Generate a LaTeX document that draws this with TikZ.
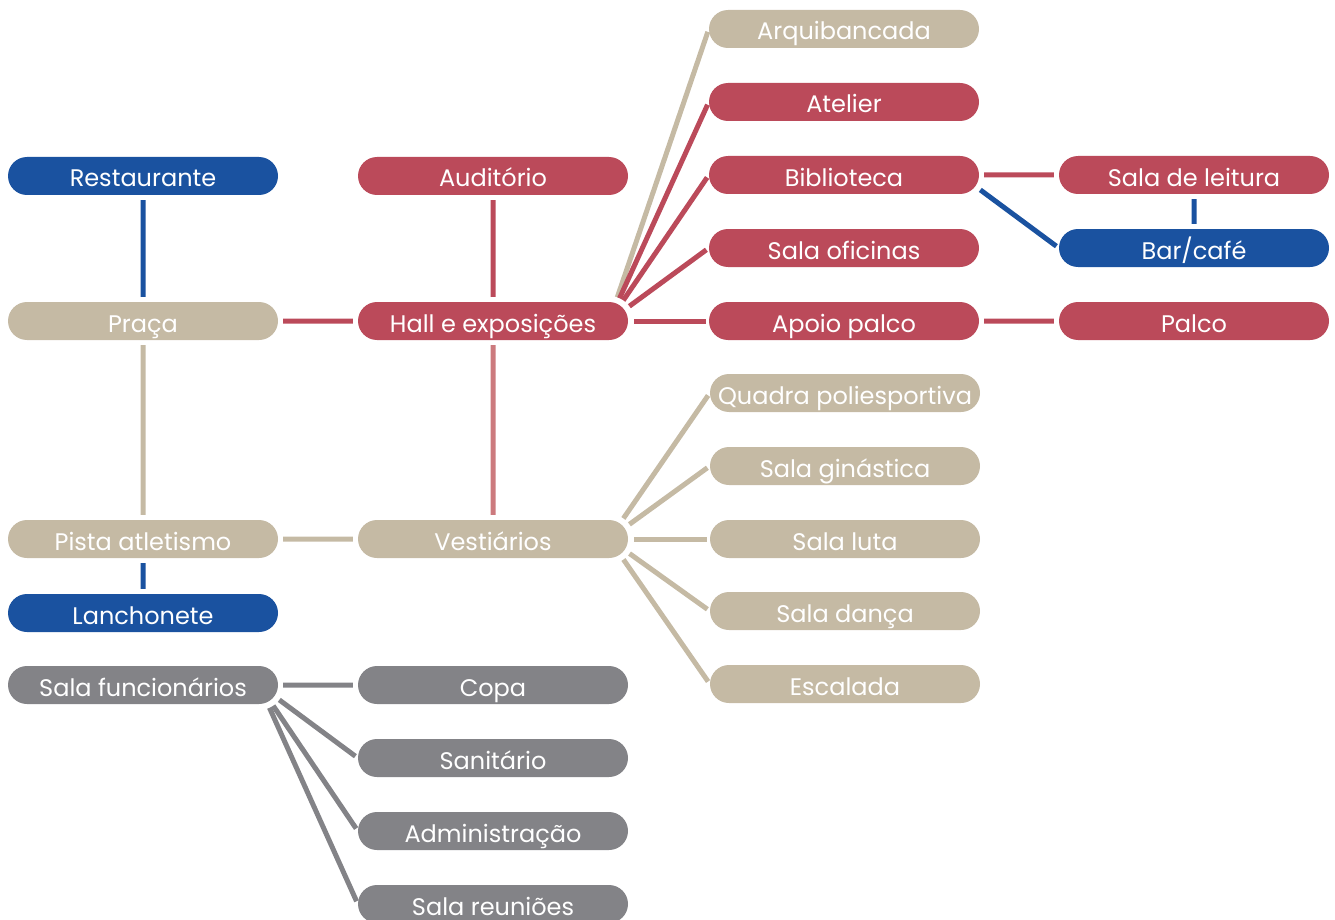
\documentclass[tikz,border=0pt]{standalone}
\usepackage{fontspec}
\setmainfont{Poppins}
\usetikzlibrary{shapes.misc,positioning,calc}
\definecolor{blueroom}{RGB}{26,82,160}
\definecolor{redroom}{RGB}{187,74,90}
\definecolor{sandroom}{RGB}{197,186,164}
\definecolor{greyroom}{RGB}{131,131,135}
\definecolor{pinkline}{RGB}{204,122,126}

\begin{document}
\begin{tikzpicture}[
  x=1pt,y=-1pt,
  room/.style={rounded rectangle,minimum width=270pt,minimum height=38pt,
    inner sep=0pt,text=white,font=\fontsize{24}{26}\selectfont,
    text height=22pt,text depth=0pt},
  blu/.style={fill=blueroom},
  red/.style={fill=redroom},
  sand/.style={fill=sandroom},
  grey/.style={fill=greyroom},
  link/.style={line width=5pt,shorten <=5pt,shorten >=5pt},
  fan/.style={line width=5pt,shorten <=25pt,shorten >=3pt},
]
  \useasboundingbox (0,0) rectangle (1335,920);
  % column 1
  \node[room,blu] (rest) at (143,176) {Restaurante};
  \node[room,sand] (praca) at (143,321) {Praça};
  \node[room,sand] (pista) at (143,539) {Pista atletismo};
  \node[room,blu] (lanch) at (143,613) {Lanchonete};
  \node[room,grey] (func) at (143,685) {Sala funcionários};
  % column 2
  \node[room,red] (audit) at (493,176) {Auditório};
  \node[room,red] (hall) at (493,321) {Hall e exposições};
  \node[room,sand] (vest) at (493,539) {Vestiários};
  \node[room,grey] (copa) at (493,685) {Copa};
  \node[room,grey] (sanit) at (493,758) {Sanitário};
  \node[room,grey] (admin) at (493,831) {Administração};
  \node[room,grey] (reun) at (493,904) {Sala reuniões};
  % column 3
  \node[room,sand] (arqui) at (844,29) {Arquibancada};
  \node[room,red] (atel) at (844,102) {Atelier};
  \node[room,red] (bibl) at (844,175) {Biblioteca};
  \node[room,red] (ofic) at (844,248) {Sala oficinas};
  \node[room,red] (apoio) at (844,321) {Apoio palco};
  \node[room,sand] (quadra) at (845,393) {Quadra poliesportiva};
  \node[room,sand] (ginas) at (845,466) {Sala ginástica};
  \node[room,sand] (luta) at (845,539) {Sala luta};
  \node[room,sand] (danca) at (845,611) {Sala dança};
  \node[room,sand] (escal) at (845,684) {Escalada};
  % column 4
  \node[room,red] (leit) at (1194,175) {Sala de leitura};
  \node[room,blu] (bar) at (1194,248) {Bar/café};
  \node[room,red] (palco) at (1194,321) {Palco};

  % straight links
  \draw[link,blueroom] (rest) -- (praca);
  \draw[link,sandroom] (praca) -- (pista);
  \draw[link,blueroom] (pista) -- (lanch);
  \draw[link,redroom] (praca) -- (hall);
  \draw[link,sandroom] (pista) -- (vest);
  \draw[link,redroom] (audit) -- (hall);
  \draw[link,pinkline] (hall) -- (vest);
  \draw[link,greyroom] (func) -- (copa);
  \draw[link,redroom] (apoio) -- (palco);
  \draw[link,redroom] (bibl) -- (leit);
  \draw[link,blueroom] (leit) -- (bar);
  \draw[fan,blueroom] ([xshift=-19pt]bibl.east) -- (bar.west);

  % fans
  \draw[fan,sandroom] ([xshift=-19pt]hall.east) -- (arqui.west);
  \foreach \t in {atel,bibl,ofic,apoio}
    \draw[fan,redroom] ([xshift=-19pt]hall.east) -- (\t.west);
  \foreach \t in {quadra,ginas,luta,danca,escal}
    \draw[fan,sandroom] ([xshift=-19pt]vest.east) -- (\t.west);
  \foreach \t in {sanit,admin,reun}
    \draw[fan,greyroom] ([xshift=-19pt]func.east) -- (\t.west);
\end{tikzpicture}
\end{document}
